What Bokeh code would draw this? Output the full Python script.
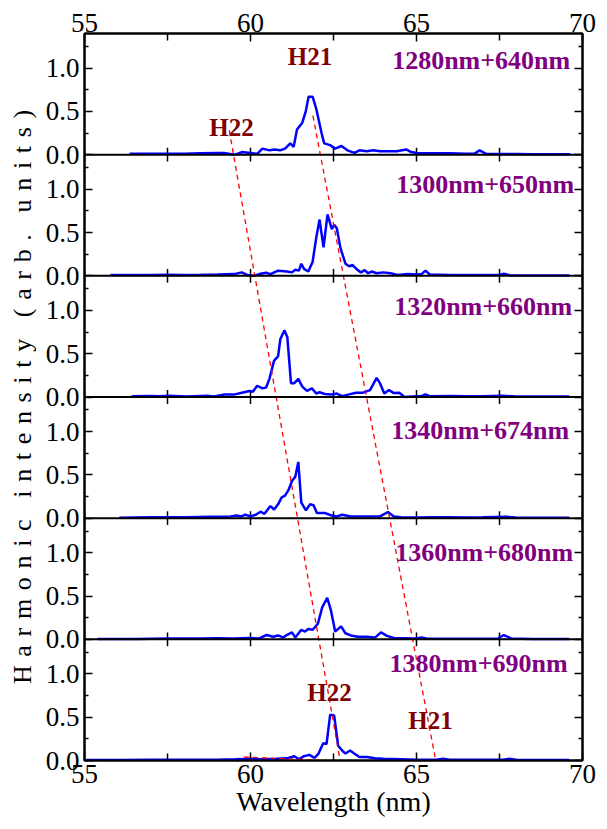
from bokeh.plotting import figure
from bokeh.models import Range1d, LinearAxis, FixedTicker, Span
from bokeh.core.properties import value
from bokeh.embed import file_html
from bokeh.resources import INLINE

# ---------------- data ----------------
x_major = [55, 60, 65, 70]
x_minor = [57.5, 62.5, 67.5]
y_major_panel = [0.0, 0.5, 1.0]
y_minor_panel = [0.25, 0.75, 1.25]
y_major_labels = ["0.0", "0.5", "1.0"]
panel_span = 1.4

panel_labels = ["1280nm+640nm", "1300nm+650nm", "1320nm+660nm",
                "1340nm+674nm", "1360nm+680nm", "1380nm+690nm"]
panel_label_x = [69.63, 69.75, 69.69, 69.6, 69.72, 69.55]
panel_label_y = [1.09, 1.06, 1.05, 1.01, 1.0, 1.12]

s1280_x = [56.36, 57.0, 57.5, 58.0, 58.5, 59.0, 59.2, 59.53, 59.74, 60.0, 60.2, 60.36, 60.57, 60.73,
           60.89, 61.04, 61.2, 61.3, 61.4, 61.56, 61.67, 61.75, 61.87, 61.98, 62.14, 62.22, 62.4, 62.55,
           62.74, 62.92, 63.13, 63.28, 63.5, 63.7, 63.9, 64.1, 64.4, 64.69, 64.84, 65.0, 65.5, 66.0,
           66.5, 66.75, 66.9, 67.1, 67.5, 68.0, 68.5, 69.0, 69.63]
s1280_y = [0.01, 0.01, 0.012, 0.01, 0.015, 0.02, 0.02, 0.0, 0.03, 0.02, 0.01, 0.07, 0.05, 0.06,
           0.05, 0.07, 0.13, 0.09, 0.29, 0.37, 0.51, 0.67, 0.67, 0.53, 0.25, 0.13, 0.11, 0.07,
           0.10, 0.05, 0.02, 0.05, 0.04, 0.05, 0.04, 0.04, 0.04, 0.06, 0.03, 0.02, 0.015, 0.015,
           0.01, 0.012, 0.05, 0.01, 0.008, 0.008, 0.005, 0.005, 0.005]

s1300_x = [55.78, 56.5, 57.0, 57.5, 58.0, 58.5, 59.0, 59.5, 59.74, 59.9, 60.1, 60.26, 60.47, 60.6,
           60.83, 61.1, 61.25, 61.35, 61.46, 61.53, 61.61, 61.74, 61.87, 61.98, 62.08, 62.2, 62.32,
           62.45, 62.52, 62.6, 62.71, 62.86, 62.97, 63.07, 63.23, 63.33, 63.44, 63.54, 63.65, 63.8,
           64.0, 64.22, 64.43, 64.74, 65.0, 65.15, 65.27, 65.4, 66.0, 66.5, 67.0, 67.5, 67.63, 67.8,
           68.5, 69.0, 69.6]
s1300_y = [0.01, 0.01, 0.01, 0.012, 0.01, 0.012, 0.015, 0.02, 0.04, 0.01, 0.0, 0.02, 0.035, 0.02,
           0.06, 0.05, 0.04, 0.07, 0.06, 0.14, 0.08, 0.05, 0.16, 0.44, 0.65, 0.33, 0.71,
           0.54, 0.59, 0.55, 0.32, 0.14, 0.11, 0.125, 0.066, 0.04, 0.066, 0.03, 0.05, 0.03,
           0.04, 0.03, 0.01, 0.02, 0.015, 0.02, 0.06, 0.015, 0.01, 0.01, 0.01, 0.01, 0.025, 0.008,
           0.005, 0.005, 0.005]

s1320_x = [56.42, 57.0, 57.24, 57.55, 58.07, 58.3, 58.7, 58.9, 59.22, 59.53, 59.74, 59.97, 60.07,
           60.2, 60.36, 60.47, 60.57, 60.71, 60.83, 60.9, 61.02, 61.11, 61.22, 61.32, 61.44, 61.56,
           61.7, 61.85, 61.98, 62.08, 62.24, 62.45, 62.6, 62.76, 62.97, 63.18, 63.39, 63.6, 63.8,
           63.9, 64.03, 64.17, 64.32, 64.48, 64.64, 65.0, 65.15, 65.27, 65.4, 66.0, 66.5, 67.0,
           67.6, 68.0, 68.5, 69.0, 69.6]
s1320_y = [0.01, 0.012, 0.01, 0.015, 0.005, 0.01, 0.015, 0.005, 0.03, 0.03, 0.05, 0.07, 0.06,
           0.13, 0.10, 0.11, 0.21, 0.42, 0.47, 0.67, 0.77, 0.69, 0.16, 0.16, 0.21, 0.12,
           0.07, 0.10, 0.04, 0.055, 0.035, 0.03, 0.04, 0.01, 0.03, 0.05, 0.05, 0.08, 0.22,
           0.16, 0.04, 0.08, 0.045, 0.05, 0.0, 0.01, 0.01, 0.03, 0.01, 0.012, 0.01, 0.008,
           0.015, 0.005, 0.005, 0.005, 0.005]

s1340_x = [56.05, 56.5, 57.0, 57.5, 58.0, 58.8, 59.32, 59.58, 59.74, 59.84, 60.0, 60.16, 60.3,
           60.42, 60.6, 60.71, 60.83, 60.94, 61.04, 61.15, 61.25, 61.35, 61.44, 61.53, 61.67,
           61.79, 61.9, 62.0, 62.24, 62.45, 62.6, 62.76, 63.02, 63.39, 63.9, 64.14, 64.32, 64.53,
           65.0, 65.5, 66.0, 66.5, 67.0, 67.7, 68.0, 68.5, 69.0, 69.6]
s1340_y = [0.005, 0.008, 0.01, 0.01, 0.012, 0.015, 0.015, 0.03, 0.02, 0.04, 0.02, 0.04, 0.075,
           0.05, 0.14, 0.10, 0.16, 0.24, 0.26, 0.33, 0.43, 0.48, 0.65, 0.18, 0.09,
           0.16, 0.15, 0.06, 0.06, 0.03, 0.02, 0.04, 0.02, 0.02, 0.02, 0.07, 0.02, 0.01,
           0.008, 0.01, 0.01, 0.008, 0.01, 0.015, 0.008, 0.005, 0.005, 0.005]

s1360_x = [55.39, 56.0, 56.5, 57.0, 57.5, 58.0, 58.5, 59.0, 59.5, 59.95, 60.26, 60.49, 60.68,
           60.83, 60.99, 61.09, 61.25, 61.35, 61.53, 61.64, 61.74, 61.87, 62.03, 62.16, 62.31,
           62.42, 62.55, 62.73, 62.86, 63.02, 63.23, 63.5, 63.75, 63.93, 64.11, 64.32, 65.0,
           65.15, 65.3, 66.0, 66.5, 67.0, 67.45, 67.63, 67.85, 68.5, 69.0, 69.6]
s1360_y = [0.005, 0.005, 0.005, 0.008, 0.01, 0.01, 0.01, 0.012, 0.01, 0.015, 0.01, 0.05, 0.03,
           0.045, 0.02, 0.05, 0.08, 0.02, 0.11, 0.09, 0.12, 0.11, 0.18, 0.37, 0.48,
           0.34, 0.09, 0.15, 0.07, 0.045, 0.03, 0.03, 0.02, 0.08, 0.04, 0.015, 0.01,
           0.02, 0.01, 0.008, 0.008, 0.008, 0.01, 0.05, 0.01, 0.005, 0.005, 0.005]

s1380_x = [55.05, 56.0, 57.0, 58.0, 59.0, 59.53, 60.0, 60.36, 60.78, 61.09, 61.32, 61.46, 61.61,
           61.77, 61.93, 62.05, 62.19, 62.29, 62.4, 62.52, 62.64, 62.76, 62.86, 63.0, 63.125,
           63.28, 63.5, 63.75, 64.0, 64.53, 65.0, 65.6, 65.8, 66.0, 67.0, 67.6, 67.8, 68.0,
           69.0, 69.6]
s1380_y = [0.005, 0.005, 0.008, 0.008, 0.01, 0.015, 0.02, 0.015, 0.02, 0.025, 0.05, 0.015, 0.05,
           0.065, 0.03, 0.08, 0.2, 0.19, 0.53, 0.52, 0.17, 0.115, 0.08, 0.115, 0.08,
           0.04, 0.04, 0.027, 0.02, 0.015, 0.01, 0.01, 0.02, 0.008, 0.008, 0.01, 0.02, 0.008,
           0.005, 0.005]

spectra_x = [s1280_x, s1300_x, s1320_x, s1340_x, s1360_x, s1380_x]
spectra_y = [s1280_y, s1300_y, s1320_y, s1340_y, s1360_y, s1380_y]

# guide lines (stacked coordinates: panel k from the bottom spans [1.4k, 1.4k+1.4])
h22_line_x = [59.36, 62.7]
h22_line_y = [7.28, 0.0]
h21_line_x = [61.88, 65.58]
h21_line_y = [7.45, 0.0]
base_line_x = [59.8, 62.3]
base_line_y = [0.04, 0.0]

harm_text = ["H21", "H22", "H22", "H21"]
harm_panel = [0, 0, 5, 5]
harm_x = [61.79, 59.43, 62.38, 65.42]
harm_y = [1.13, 0.318, 0.79, 0.46]

# ---------------- figure ----------------
n = len(panel_labels)
FONT = "Liberation Serif"

p = figure(frame_width=498, frame_height=727,
           x_range=Range1d(55, 70), y_range=Range1d(0, n * panel_span),
           output_backend="svg", toolbar_location=None,
           min_border_left=84, min_border_right=25,
           min_border_top=33, min_border_bottom=69)
p.grid.visible = False
p.outline_line_color = "black"
p.outline_line_width = 2
p.background_fill_color = "white"
p.border_fill_color = "white"

# y ticks repeated in each panel
y_major, y_minor, overrides = [], [], {}
for k in range(n):
    for v, lab in zip(y_major_panel, y_major_labels):
        t = k * panel_span + v
        y_major.append(t)
        overrides[t] = lab
    for v in y_minor_panel:
        y_minor.append(k * panel_span + v)

def style_axis(ax, show_labels=True):
    ax.axis_line_width = 2
    ax.axis_line_color = "black"
    ax.major_tick_in = 8
    ax.major_tick_out = 0
    ax.minor_tick_in = 4
    ax.minor_tick_out = 0
    ax.major_tick_line_width = 1.5
    ax.minor_tick_line_width = 1.5
    ax.major_label_text_font = FONT
    ax.major_label_text_font_size = "27px" if show_labels else "0px"
    ax.major_label_text_color = "black"

xb = p.xaxis[0]
xb.ticker = FixedTicker(ticks=x_major, minor_ticks=x_minor)
style_axis(xb)
xb.minor_tick_in = 7
xb.major_label_standoff = 4
xb.axis_label = "Wavelength (nm)"
xb.axis_label_text_font = FONT
xb.axis_label_text_font_style = "normal"
xb.axis_label_text_font_size = "28px"
xb.axis_label_text_color = "black"
xb.axis_label_standoff = 0

xt = LinearAxis(ticker=FixedTicker(ticks=x_major, minor_ticks=x_minor))
style_axis(xt)
xt.minor_tick_in = 7
xt.major_label_standoff = 2
p.add_layout(xt, "above")

yl = p.yaxis[0]
yl.ticker = FixedTicker(ticks=y_major, minor_ticks=y_minor)
style_axis(yl)
yl.major_label_overrides = overrides
yl.major_label_standoff = 5
sep_l = "\u00a0\u200a"
sep_w = "\u00a0\u00a0\u00a0\u200a"
words = ["Harmonic", "intensity", "(arb.", "units)"]
yl.axis_label = sep_w.join(sep_l.join(list(w)) for w in words)
yl.axis_label_text_font = FONT
yl.axis_label_text_font_style = "normal"
yl.axis_label_text_font_size = "26px"
yl.axis_label_text_color = "black"
yl.axis_label_standoff = 6

yr = LinearAxis(ticker=FixedTicker(ticks=y_major, minor_ticks=y_minor))
style_axis(yr, show_labels=False)
yr.major_label_overrides = {t: "" for t in y_major}
p.add_layout(yr, "right")

# panel separators and their inward x ticks
tick_len = 0.08
all_xt = x_major + x_minor
sx, sy0, sy1 = [], [], []
for k in range(1, n):
    b = k * panel_span
    p.add_layout(Span(location=b, dimension="width", line_color="black", line_width=2))
    for t in all_xt:
        sx += [t, t]
        sy0 += [b, b]
        sy1 += [b + tick_len, b - tick_len]
p.segment(x0=sx, y0=sy0, x1=sx, y1=sy1, line_color="black", line_width=1.5)

# spectra
for i in range(n):
    off = (n - 1 - i) * panel_span
    xs, ys = spectra_x[i], spectra_y[i]
    assert len(xs) == len(ys), (i, len(xs), len(ys))
    p.line(xs, [v + off for v in ys], line_color="#0000FF", line_width=2.5)

# red dashed guides
for gx, gy in [(h22_line_x, h22_line_y), (h21_line_x, h21_line_y), (base_line_x, base_line_y)]:
    p.line(gx, gy, line_color="#FF0000", line_width=1.3, line_dash="5 4")

# panel labels
p.text(x=panel_label_x,
       y=[(n - 1 - i) * panel_span + panel_label_y[i] for i in range(n)],
       text=panel_labels, text_font=value(FONT), text_font_style="bold",
       text_font_size="26px", text_color="#800080",
       text_align="right", text_baseline="middle")

# harmonic labels
p.text(x=harm_x,
       y=[(n - 1 - harm_panel[j]) * panel_span + harm_y[j] for j in range(len(harm_x))],
       text=harm_text, text_font=value(FONT), text_font_style="bold",
       text_font_size="25px", text_color="#800000",
       text_align="center", text_baseline="middle")

open("out.html", "w").write(file_html(p, INLINE))
